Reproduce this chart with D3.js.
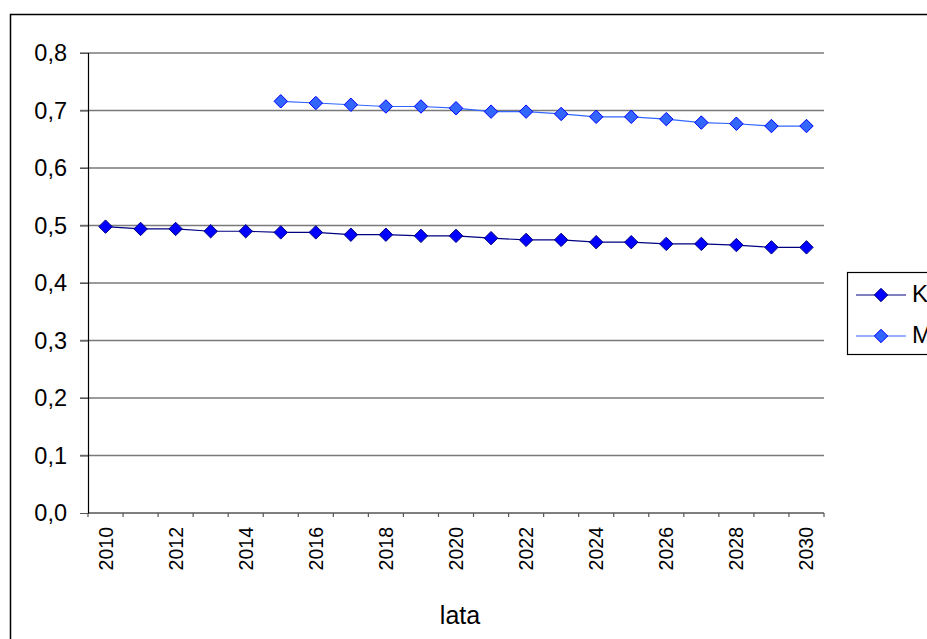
<!DOCTYPE html>
<html>
<head>
<meta charset="utf-8">
<script src="https://cdn.jsdelivr.net/npm/d3@7"></script>
<style>
  html, body { margin: 0; padding: 0; background: #fff; overflow: hidden; }
  svg { display: block; font-family: "Liberation Sans", Arial, sans-serif; }
</style>
</head>
<body>
<svg id="chart" width="927" height="639"></svg>
<script>
const years = [2010, 2011, 2012, 2013, 2014, 2015, 2016, 2017, 2018, 2019, 2020,
               2021, 2022, 2023, 2024, 2025, 2026, 2027, 2028, 2029, 2030];
const seriesK = [0.498, 0.494, 0.494, 0.490, 0.490, 0.488, 0.488, 0.484, 0.484, 0.482, 0.482,
                 0.478, 0.475, 0.475, 0.471, 0.471, 0.468, 0.468, 0.466, 0.462, 0.462];
const seriesM = [null, null, null, null, null, 0.716, 0.713, 0.710, 0.707, 0.707, 0.704,
                 0.698, 0.698, 0.694, 0.689, 0.689, 0.685, 0.679, 0.677, 0.673, 0.673];
const seriesNames = ["K", "M"];
const yTicks = [0, 0.1, 0.2, 0.3, 0.4, 0.5, 0.6, 0.7, 0.8];
const xTitle = "lata";

const svg = d3.select("#chart");
const mLeft = 88, mRight = 824, mTop = 53, mBottom = 513;

// outer chart frame
svg.append("rect").attr("x", 10.5).attr("y", 14.5).attr("width", 940).attr("height", 660)
  .attr("fill", "none").attr("stroke", "#000").attr("stroke-width", 1.5);

const x = d3.scaleBand().domain(years).range([mLeft, mRight]).padding(0);
const y = d3.scaleLinear().domain([0, 0.8]).range([mBottom, mTop]);
const fmt = v => d3.format(".1f")(v).replace(".", ",");

// gridlines
svg.append("g").selectAll("line").data(yTicks.filter(t => t > 0)).join("line")
  .attr("x1", mLeft - 8).attr("x2", mRight)
  .attr("y1", d => y(d)).attr("y2", d => y(d))
  .attr("stroke", "#7a7a7a").attr("stroke-width", 1.5);

// y axis
const yAxis = svg.append("g").attr("transform", `translate(${mLeft},0)`)
  .call(d3.axisLeft(y).tickValues(yTicks).tickFormat(fmt).tickSize(8).tickPadding(13));
yAxis.select(".domain").attr("stroke", "#000").attr("stroke-width", 1.2);
yAxis.selectAll(".tick line").attr("stroke", "#555");
yAxis.selectAll("text").attr("font-size", 23.5).attr("fill", "#000")
  .attr("font-family", "Liberation Sans, Arial, sans-serif");

// x axis (category boundaries ticks)
const boundaries = years.map(d => x(d)).concat([mRight]);
svg.append("line").attr("x1", mLeft).attr("x2", mRight).attr("y1", mBottom).attr("y2", mBottom)
  .attr("stroke", "#000").attr("stroke-width", 1.2);
svg.append("g").selectAll("line").data(boundaries).join("line")
  .attr("x1", d => d).attr("x2", d => d).attr("y1", mBottom).attr("y2", mBottom + 4)
  .attr("stroke", "#555").attr("stroke-width", 1.2);
svg.append("g").selectAll("text").data(years.filter((d, i) => i % 2 === 0)).join("text")
  .attr("transform", d => `translate(${x(d) + x.bandwidth() / 2 + 7},${mBottom + 14}) rotate(-90)`)
  .attr("text-anchor", "end").attr("font-size", 19.5).attr("fill", "#000")
  .text(d => d);

// axis title
svg.append("text").attr("x", 460).attr("y", 624).attr("text-anchor", "middle")
  .attr("font-size", 25).attr("fill", "#000").text(xTitle);

const cx = d => x(d) + x.bandwidth() / 2;
const diamond = d3.symbol().type(d3.symbolDiamond2).size(115);
const styles = [
  { line: "#000080", fill: "#0000ff", stroke: "#000080" },
  { line: "#3366ff", fill: "#3366ff", stroke: "#0000ff" }
];
[seriesK, seriesM].forEach((vals, si) => {
  const pts = years.map((yr, i) => ({ yr, v: vals[i] })).filter(p => p.v != null);
  const st = styles[si];
  svg.append("path").datum(pts)
    .attr("d", d3.line().x(p => cx(p.yr)).y(p => y(p.v)))
    .attr("fill", "none").attr("stroke", st.line).attr("stroke-width", 1.2);
  svg.append("g").selectAll("path").data(pts).join("path")
    .attr("d", diamond)
    .attr("transform", p => `translate(${cx(p.yr)},${y(p.v)})`)
    .attr("fill", st.fill).attr("stroke", st.stroke).attr("stroke-width", 1);
});

// legend
const lg = svg.append("g");
lg.append("rect").attr("x", 847.5).attr("y", 272.5).attr("width", 200).attr("height", 82)
  .attr("fill", "#fff").attr("stroke", "#000").attr("stroke-width", 1.2);
seriesNames.forEach((name, i) => {
  const ly = 295 + i * 41;
  const st = styles[i];
  lg.append("line").attr("x1", 856).attr("x2", 906).attr("y1", ly).attr("y2", ly)
    .attr("stroke", st.line).attr("stroke-width", 1.2);
  lg.append("path").attr("d", diamond).attr("transform", `translate(881,${ly})`)
    .attr("fill", st.fill).attr("stroke", st.stroke).attr("stroke-width", 1);
  lg.append("text").attr("x", 912).attr("y", ly + 7).attr("font-size", 24).attr("fill", "#000")
    .text(name);
});
</script>
</body>
</html>
